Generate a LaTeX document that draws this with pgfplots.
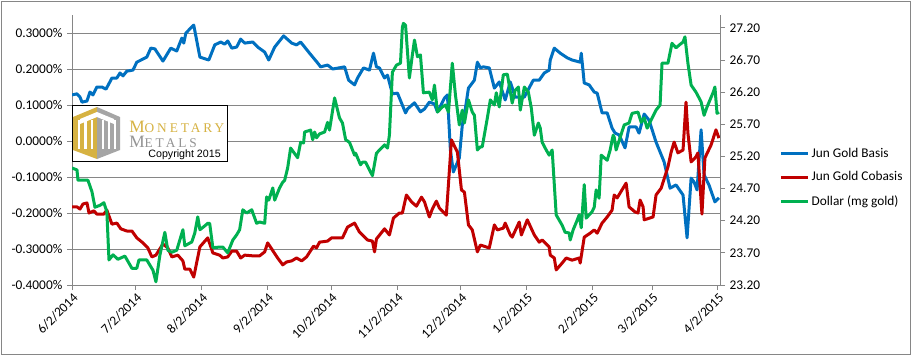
\documentclass[border=0pt]{standalone}
\usepackage{fontspec}
\setmainfont{Carlito}
\newfontfamily\logoserif[LetterSpace=22]{Liberation Serif}
\newfontfamily\logosans{Liberation Sans}
\usepackage{pgfplots}
\pgfplotsset{compat=1.18}
\definecolor{cBasis}{RGB}{0,112,192}
\definecolor{cCob}{RGB}{192,0,0}
\definecolor{cDol}{RGB}{0,176,80}
\definecolor{gridc}{RGB}{134,134,134}
\definecolor{gold}{RGB}{214,178,66}
\definecolor{lgray}{RGB}{165,165,165}
\pgfplotsset{myaxis/.style={scale only axis, width=486pt, height=202.5pt,
  xmin=0, xmax=305, at={(54pt,52.5pt)}, anchor=south west,
  axis line style={gridc, line width=0.75pt, -},
  tick style={gridc, line width=0.75pt}, major tick length=3.75pt, tick align=outside,
  ticklabel style={font=\fontsize{10}{12}\selectfont, text=black}},
  ser/.style={line width=2.25pt, line join=round, no marks}}
\begin{document}
\begin{tikzpicture}[x=0.75pt,y=0.75pt]
\useasboundingbox (0,0) rectangle (911,355);
\draw[gridc, line width=0.75pt] (1,1) rectangle (910,354);
\begin{axis}[myaxis, ymin=-0.4, ymax=0.35,
  axis x line*=bottom, axis y line*=left,
  xtick={0,30,61,92,122,153,183,214,245,273,304},
  xticklabels={6/2/2014,7/2/2014,8/2/2014,9/2/2014,10/2/2014,11/2/2014,12/2/2014,1/2/2015,2/2/2015,3/2/2015,4/2/2015},
  xticklabel style={rotate=45, anchor=north east, inner sep=1pt},
  ytick={-0.4,-0.3,-0.2,-0.1,0,0.1,0.2,0.3},
  yticklabels={-0.4000\%,-0.3000\%,-0.2000\%,-0.1000\%,0.0000\%,0.1000\%,0.2000\%,0.3000\%},
  ymajorgrids, major grid style={gridc, line width=0.75pt}]
\addplot[ser, cBasis] coordinates {
(0,0.128)(2.35,0.131)(3.76,0.122)(4.7,0.108)(7.05,0.111)(8.46,0.136)(9.87,0.128)(11.7,0.150)
(14.1,0.150)(16.0,0.144)(18.8,0.175)(21.1,0.175)(22.6,0.189)(24.0,0.181)(25.8,0.194)(28.7,0.197)
(30.5,0.219)(35.2,0.233)(37.1,0.258)(39.0,0.256)(42.8,0.222)(46.5,0.258)(49.3,0.250)(51.7,0.286)
(52.6,0.272)(53.6,0.300)(57.3,0.322)(60.2,0.233)(64.4,0.225)(67.2,0.267)(70.0,0.275)(71.9,0.269)
(73.3,0.278)(75.2,0.258)(77.5,0.261)(79.4,0.283)(81.3,0.272)(85.1,0.275)(87.4,0.261)(90.7,0.247)
(92.6,0.225)(95.4,0.261)(99.6,0.292)(103.4,0.272)(105.7,0.267)(107.6,0.275)(111.8,0.244)(115.6,0.217)
(117.0,0.206)(120.3,0.211)(122.7,0.200)(128.3,0.206)(130.2,0.169)(133.0,0.156)(134.4,0.175)(137.2,0.203)
(140.0,0.197)(141.9,0.244)(143.3,0.206)(144.7,0.203)(147.1,0.175)(148.5,0.183)(150.8,0.131)(153.2,0.133)
(157.0,0.078)(157.9,0.089)(161.2,0.106)(164.0,0.081)(165.9,0.089)(168.2,0.108)(170.6,0.103)(172.0,0.081)
(175.3,0.119)(176.7,0.128)(178.1,-0.025)(179.5,-0.086)(182.3,-0.047)(183.7,0.044)(185.2,0.092)(186.6,0.147)
(189.4,0.169)(190.8,0.219)(192.2,0.203)(193.6,0.206)(196.4,0.203)(198.8,0.147)(201.1,0.164)(203.9,0.114)
(206.3,0.164)(208.6,0.122)(212.9,0.122)(217.1,0.169)(219.9,0.169)(222.3,0.189)(224.6,0.197)(225.1,0.225)
(227.0,0.258)(229.8,0.244)(233.1,0.231)(235.4,0.225)(239.2,0.219)(239.7,0.244)(241.1,0.161)(243.4,0.156)
(245.8,0.136)(247.2,0.133)(249.5,0.078)(251.9,0.078)(254.2,0.036)(255.6,0.022)(257.5,0.017)(260.3,-0.019)
(262.2,0.039)(265.5,0.039)(266.9,0.022)(269.3,0.075)(271.6,0.058)(274.9,-0.003)(278.7,-0.058)(281.5,-0.131)
(284.3,-0.122)(287.6,-0.150)(289.5,-0.269)(291.4,-0.103)(292.8,-0.114)(294.2,-0.136)(296.1,0.031)(297.5,-0.094)
(299.8,-0.122)(302.6,-0.169)(304.5,-0.158)};
\addplot[ser, cCob] coordinates {
(0,-0.183)(2.35,-0.183)(3.76,-0.189)(5.17,-0.175)(7.05,-0.172)(8.0,-0.200)(10.3,-0.194)(11.7,-0.203)
(15.0,-0.203)(16.4,-0.192)(18.8,-0.231)(21.1,-0.228)(23.0,-0.244)(25.8,-0.250)(28.2,-0.250)(30.5,-0.269)
(33.4,-0.283)(35.7,-0.297)(37.6,-0.322)(39.5,-0.317)(42.8,-0.286)(45.1,-0.297)(47.0,-0.322)(49.8,-0.317)
(52.2,-0.333)(53.1,-0.356)(55.5,-0.356)(57.3,-0.378)(60.2,-0.294)(63.9,-0.269)(66.3,-0.311)(69.5,-0.317)
(71.0,-0.325)(73.3,-0.322)(75.2,-0.306)(77.5,-0.306)(79.4,-0.325)(81.3,-0.317)(85.1,-0.319)(88.3,-0.319)
(90.7,-0.308)(92.1,-0.283)(94.0,-0.300)(96.8,-0.325)(99.2,-0.344)(101.0,-0.336)(103.4,-0.333)(105.7,-0.325)
(108.1,-0.333)(110.4,-0.322)(113.7,-0.292)(115.1,-0.297)(116.5,-0.281)(120.3,-0.278)(122.2,-0.269)(127.3,-0.269)
(129.7,-0.239)(133.0,-0.228)(135.3,-0.253)(136.7,-0.261)(139.1,-0.275)(141.4,-0.278)(142.4,-0.308)(143.3,-0.272)
(147.1,-0.244)(149.4,-0.261)(151.3,-0.214)(154.1,-0.200)(155.5,-0.200)(157.4,-0.150)(159.8,-0.169)(162.1,-0.181)
(164.5,-0.156)(165.9,-0.169)(168.2,-0.211)(169.6,-0.189)(171.5,-0.167)(172.9,-0.186)(176.2,-0.206)(178.6,0.003)
(181.4,-0.031)(183.3,-0.136)(184.7,-0.142)(186.6,-0.233)(188.4,-0.247)(190.8,-0.308)(192.2,-0.289)(196.4,-0.297)
(198.8,-0.233)(200.2,-0.247)(203.0,-0.242)(203.9,-0.228)(206.3,-0.261)(207.2,-0.267)(210.5,-0.225)(211.5,-0.261)
(214.3,-0.219)(217.6,-0.261)(219.9,-0.281)(221.3,-0.275)(224.6,-0.294)(225.1,-0.317)(227.0,-0.325)(227.9,-0.358)
(230.7,-0.339)(232.6,-0.325)(235.4,-0.331)(238.7,-0.325)(239.2,-0.339)(241.1,-0.267)(243.9,-0.256)(245.8,-0.247)
(247.2,-0.256)(249.5,-0.228)(251.9,-0.211)(254.2,-0.192)(255.2,-0.150)(256.6,-0.158)(260.8,-0.117)(262.2,-0.183)
(265.0,-0.197)(266.4,-0.200)(267.4,-0.164)(268.8,-0.183)(269.3,-0.219)(273.5,-0.211)(274.9,-0.150)(277.3,-0.131)
(280.5,-0.072)(282.0,-0.031)(283.4,-0.003)(285.2,-0.033)(287.6,-0.025)(289.0,0.108)(289.9,0.022)(291.4,-0.058)
(293.7,-0.044)(294.6,-0.033)(296.5,-0.203)(297.9,-0.047)(300.8,-0.011)(303.1,0.031)(304.5,0.008)};
\end{axis}
\begin{axis}[myaxis, ymin=23.2, ymax=27.4,
  axis x line=none, axis y line*=right,
  ytick={23.2,23.7,24.2,24.7,25.2,25.7,26.2,26.7,27.2},
  yticklabels={23.20,23.70,24.20,24.70,25.20,25.70,26.20,26.70,27.20},
  legend cell align=left,
  legend style={at={(1.085,0.398)}, anchor=west, draw=none, fill=none,
    font=\fontsize{10}{12}\selectfont, row sep=5.5pt},
  legend image code/.code={\draw[#1] (0pt,0pt) -- (20pt,0pt);}]
\addlegendimage{cBasis, line width=2.25pt}\addlegendentry{Jun Gold Basis}
\addlegendimage{cCob, line width=2.25pt}\addlegendentry{Jun Gold Cobasis}
\addplot[ser, cDol] coordinates {
(0,25.02)(2.35,24.99)(2.8,24.83)(5.17,24.83)(7.5,24.83)(9.4,24.65)(10.8,24.41)(13.2,24.44)
(15.0,24.48)(16.4,24.34)(17.4,23.59)(19.3,23.67)(21.6,23.60)(24.9,23.65)(28.2,23.46)(30.5,23.46)
(31.5,23.59)(35.2,23.59)(38.1,23.43)(39.5,23.25)(41.4,23.67)(43.7,24.02)(45.1,23.74)(47.0,23.71)
(49.3,23.74)(52.2,24.06)(53.1,23.81)(56.4,23.87)(57.8,24.01)(59.2,24.26)(60.2,24.06)(62.5,24.12)
(63.9,24.16)(64.8,24.16)(66.3,23.78)(69.5,23.79)(71.0,23.79)(73.3,23.70)(75.7,23.90)(77.5,23.98)
(78.9,24.06)(80.4,24.37)(82.2,24.32)(84.6,24.37)(86.9,24.16)(88.3,24.18)(90.7,24.16)(91.6,24.57)
(92.6,24.52)(94.5,24.71)(95.4,24.52)(97.7,24.71)(99.2,24.80)(100.1,24.83)(101.5,25.02)(102.9,25.33)
(106.2,25.18)(107.6,25.42)(109.0,25.41)(109.5,25.58)(112.3,25.61)(113.3,25.46)(114.2,25.58)(115.1,25.49)
(116.5,25.55)(118.9,25.58)(120.3,25.73)(121.2,25.61)(123.6,26.11)(125.9,25.80)(127.3,25.72)(128.8,25.46)
(130.6,25.42)(133.0,25.22)(133.5,25.25)(135.8,25.07)(136.7,25.11)(138.2,25.11)(141.4,24.90)(143.3,25.25)
(147.1,25.38)(148.5,25.33)(149.4,25.53)(150.8,26.51)(152.7,26.62)(154.6,26.65)(155.5,27.21)(156.0,27.27)
(157.0,27.24)(158.8,26.42)(160.2,26.78)(161.2,27.01)(162.6,26.75)(164.0,26.78)(165.4,26.19)(168.2,26.20)
(169.6,26.08)(170.6,26.31)(172.0,25.89)(174.3,25.97)(175.8,26.00)(177.2,25.89)(179.0,26.65)(180.5,26.15)
(182.3,25.69)(183.7,25.92)(184.7,25.72)(186.6,26.08)(188.4,25.89)(189.4,25.84)(190.8,25.30)(192.2,25.35)
(193.1,25.35)(195.5,25.80)(196.9,26.08)(198.8,26.00)(199.7,26.19)(201.1,25.97)(203.0,26.47)(204.9,26.48)
(207.2,26.03)(208.6,26.23)(210.1,26.28)(211.0,25.92)(212.9,26.28)(214.8,26.20)(216.2,25.95)(217.6,25.53)
(219.5,25.72)(220.4,25.64)(221.3,25.42)(223.2,25.30)(224.6,25.22)(226.0,25.30)(227.9,24.29)(230.7,24.13)
(232.1,24.02)(234.0,24.01)(234.5,23.90)(235.9,24.06)(237.8,24.21)(238.7,24.29)(239.7,24.09)(241.1,24.76)
(242.0,24.24)(244.8,24.34)(245.8,24.41)(246.7,24.68)(248.1,24.55)(249.1,25.22)(251.9,25.14)(253.3,25.30)
(254.7,25.53)(255.2,25.50)(256.1,25.30)(259.9,25.69)(262.2,25.72)(263.6,25.87)(266.4,25.89)(267.9,25.73)
(269.3,25.80)(270.7,25.64)(274.9,25.92)(276.8,26.00)(277.7,26.65)(280.5,26.65)(282.4,26.96)(284.3,26.89)
(285.7,26.93)(287.6,26.98)(288.5,27.06)(289.9,26.65)(291.4,26.31)(293.7,26.20)(296.1,26.05)(297.5,25.84)
(298.9,25.97)(301.7,26.19)(302.6,26.28)(303.6,25.87)(304.5,25.89)};
\addlegendentry{Dollar (mg gold)}
\end{axis}
% logo
\draw[black, line width=0.75pt, fill=white] (72,194) rectangle (227,250);
\fill[gold] (97,248) -- (73,238) -- (73,205) -- (97,196) -- cycle;
\fill[lgray] (97,248) -- (120,238) -- (120,205) -- (97,196) -- cycle;
\foreach \xx in {77.5,84,90.5,101.5,107.5,113.5} {\fill[white] (\xx,206) rectangle ++(2.5,29);}
\fill[white] (97,238) -- (80,231) -- (80,236) -- (97,243) -- (114,236) -- (114,231) -- cycle;
\node[anchor=base west, inner sep=0, text=gold] at (129,223) {\logoserif\fontsize{13}{15}\selectfont M\fontsize{10}{12}\selectfont ONETARY};
\node[anchor=base west, inner sep=0, text=lgray!90!black] at (129,208) {\logoserif\fontsize{13}{15}\selectfont M\fontsize{10}{12}\selectfont ETALS};
\node[anchor=base east, inner sep=0, text=black] at (221,198) {\logosans\fontsize{8}{10}\selectfont Copyright 2015};
\end{tikzpicture}
\end{document}
